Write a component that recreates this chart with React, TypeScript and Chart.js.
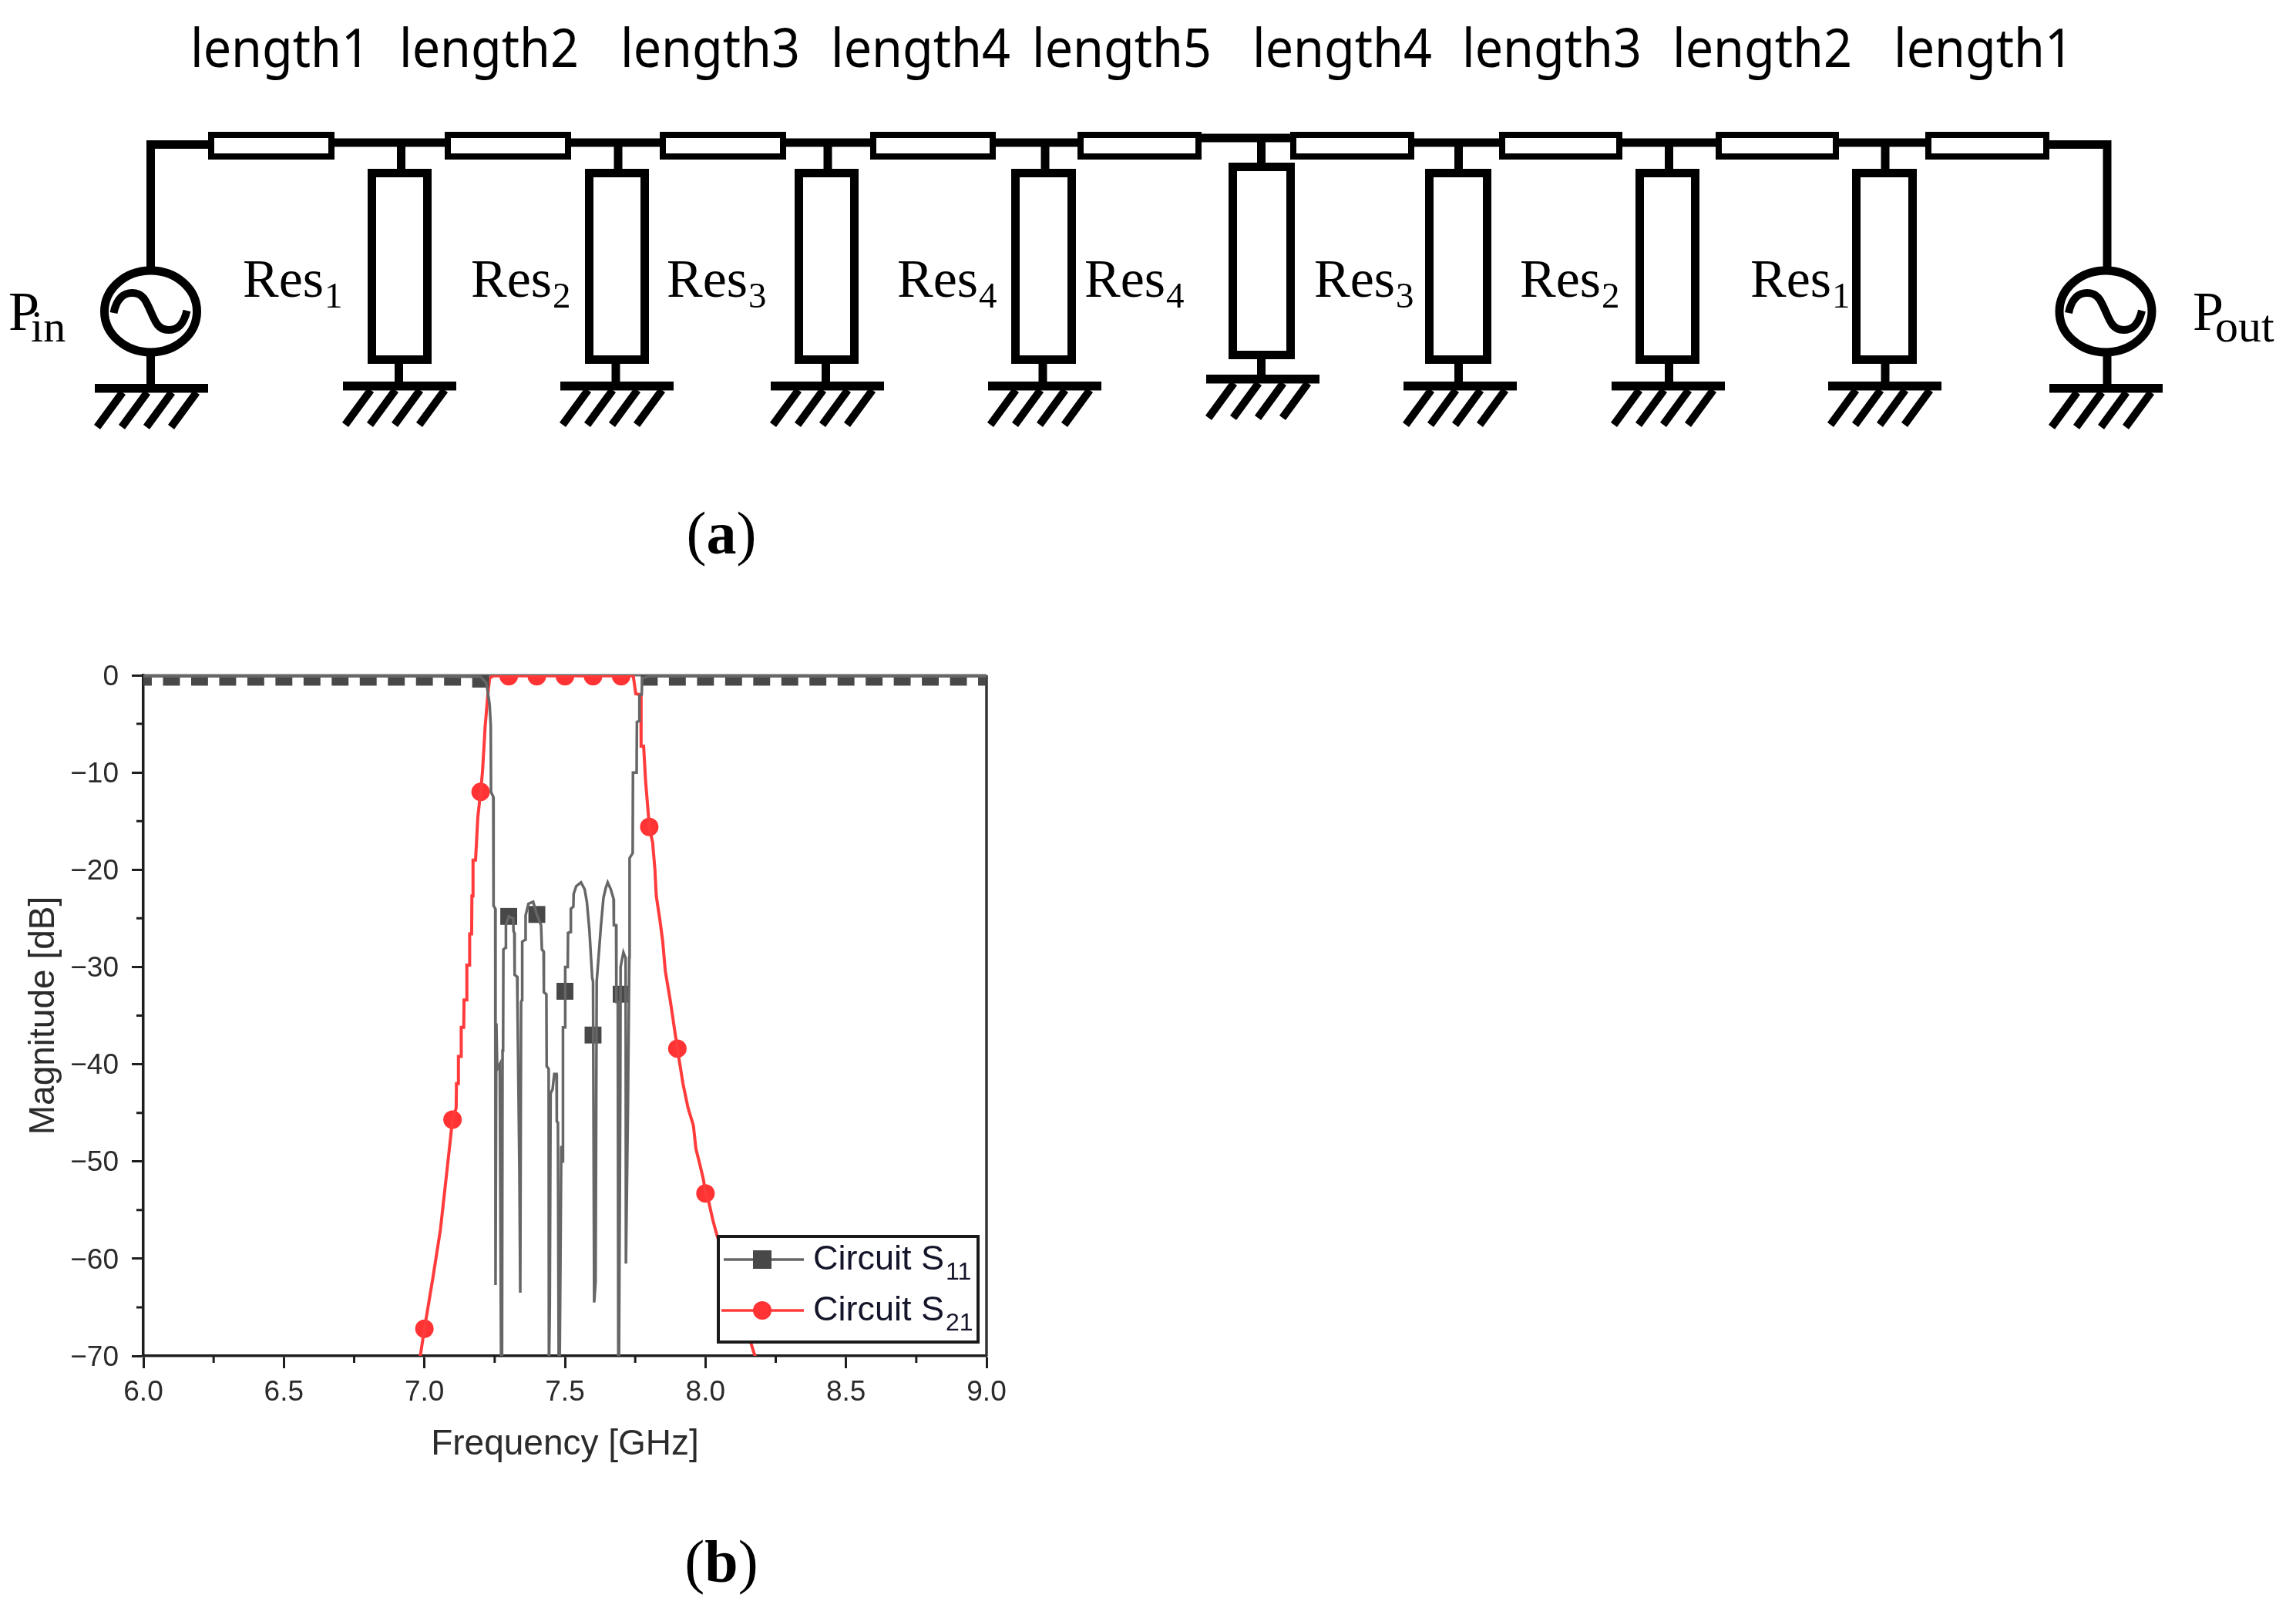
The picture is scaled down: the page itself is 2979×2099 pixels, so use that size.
import { useEffect, useRef } from 'react';
import { Chart, registerables } from 'chart.js';

Chart.register(...registerables);

// S11 trace, frequency in GHz / magnitude in dB
const s11Freq = [6.0, 6.5, 7.0, 7.2, 7.22, 7.225, 7.232, 7.236, 7.237, 7.245, 7.246, 7.252, 7.253, 7.256, 7.259, 7.268, 7.273, 7.276, 7.278, 7.28, 7.281, 7.289, 7.29, 7.3, 7.316, 7.317, 7.32, 7.321, 7.33, 7.331, 7.338, 7.341, 7.344, 7.347, 7.348, 7.359, 7.36, 7.37, 7.387, 7.4, 7.415, 7.418, 7.424, 7.425, 7.434, 7.435, 7.442, 7.443, 7.446, 7.449, 7.456, 7.462, 7.47, 7.471, 7.475, 7.478, 7.481, 7.487, 7.492, 7.493, 7.5, 7.501, 7.51, 7.511, 7.52, 7.521, 7.53, 7.531, 7.54, 7.557, 7.57, 7.578, 7.587, 7.597, 7.6, 7.604, 7.609, 7.613, 7.628, 7.637, 7.645, 7.652, 7.663, 7.673, 7.674, 7.682, 7.683, 7.688, 7.69, 7.692, 7.697, 7.698, 7.708, 7.716, 7.717, 7.724, 7.729, 7.73, 7.741, 7.742, 7.755, 7.756, 7.764, 7.765, 7.773, 7.775, 7.8, 8.5, 9.0];
const s11Mag = [-0.1, -0.1, -0.1, -0.15, -0.8, -1.6, -3, -5.2, -12, -12.5, -23.7, -24, -62.7, -35.8, -40.5, -40, -72, -72, -38.6, -38.4, -28.2, -28, -25.7, -24.8, -25, -26.3, -26.5, -30.8, -31, -33.6, -50.9, -63.5, -33.6, -33.4, -27.4, -27.2, -24.7, -23.5, -23.3, -24.6, -25.7, -28.2, -28.4, -32.6, -32.8, -40.2, -40.5, -72, -65, -43, -42.6, -41, -41, -45.9, -46, -72, -72, -48.4, -50, -36.2, -36.2, -30, -30, -26.5, -26.4, -24, -23.8, -22.5, -21.7, -21.3, -22, -23.3, -26.2, -31.1, -31.5, -64.5, -62.4, -31.5, -25.8, -22.9, -21.9, -21.3, -22, -23, -25.7, -25.7, -33.6, -33.6, -72, -72, -42, -30, -28.5, -29.1, -60.5, -44.6, -29, -18.8, -18.3, -10, -10, -4.8, -4.7, -2.1, -2, -0.3, -0.1, -0.1, -0.1];

// S21 trace
const s21Freq = [6.975, 7.0, 7.03, 7.057, 7.08, 7.1, 7.113, 7.114, 7.12, 7.121, 7.13, 7.131, 7.14, 7.141, 7.15, 7.151, 7.16, 7.161, 7.168, 7.169, 7.172, 7.173, 7.182, 7.19, 7.2, 7.207, 7.216, 7.226, 7.232, 7.245, 7.5, 7.743, 7.752, 7.77, 7.771, 7.78, 7.787, 7.797, 7.8, 7.812, 7.82, 7.825, 7.838, 7.848, 7.857, 7.875, 7.9, 7.92, 7.938, 7.957, 7.966, 7.98, 7.993, 8.0, 8.012, 8.026, 8.04, 8.1, 8.163, 8.175, 8.2];
const s21Mag = [-72, -67.2, -62, -57, -51, -45.7, -44.5, -42, -42, -39.2, -39.2, -36.2, -36.2, -33.4, -33.4, -29.8, -29.8, -26.6, -26.6, -22.7, -22.7, -19, -19, -14.6, -12, -9.8, -5.3, -1.9, -0.3, -0.05, -0.05, -0.05, -1.9, -2, -7.3, -7.3, -10.9, -14.4, -15.6, -17.2, -19.9, -22.7, -25.2, -27.4, -30.4, -33.5, -38.4, -42, -44.5, -46.3, -48.7, -50.3, -51.9, -53.3, -54.2, -56, -57.5, -63, -68.8, -69.9, -72];

// markers sit every 0.1 GHz on each trace
const s11MarkerFreq = [6.0, 6.1, 6.2, 6.3, 6.4, 6.5, 6.6, 6.7, 6.8, 6.9, 7.0, 7.1, 7.2, 7.3, 7.4, 7.5, 7.6, 7.7, 7.8, 7.9, 8.0, 8.1, 8.2, 8.3, 8.4, 8.5, 8.6, 8.7, 8.8, 8.9, 9.0];
const s11MarkerMag = [-0.2, -0.2, -0.2, -0.2, -0.2, -0.2, -0.2, -0.2, -0.2, -0.2, -0.2, -0.2, -0.4, -24.8, -24.6, -32.5, -37, -32.8, -0.2, -0.2, -0.2, -0.2, -0.2, -0.2, -0.2, -0.2, -0.2, -0.2, -0.2, -0.2, -0.2];
const s21MarkerFreq = [7.0, 7.1, 7.2, 7.3, 7.4, 7.5, 7.6, 7.7, 7.8, 7.9, 8.0];
const s21MarkerMag = [-67.2, -45.7, -12, -0.1, -0.1, -0.1, -0.1, -0.1, -15.6, -38.4, -53.3];

const minorFreq = [6.25, 6.75, 7.25, 7.75, 8.25, 8.75];
const minorMag = [-5, -15, -25, -35, -45, -55, -65];

const legendSubs = ['11', '21'];
const lengthLabels = ['length1', 'length2', 'length3', 'length4', 'length5', 'length4', 'length3', 'length2', 'length1'];
const resLabels = ['1', '2', '3', '4', '4', '3', '2', '1'];

// schematic layout, page pixels
const lengthX = [247, 518, 805, 1078, 1339, 1625, 1897, 2170, 2457];
const resX = [315, 611, 865, 1164, 1407, 1705, 1972, 2271];
const seriesBoxes = [[270, 434], [577, 741], [856, 1020], [1129, 1292], [1398, 1559], [1674, 1835], [1945, 2105], [2226, 2386], [2498, 2659]];
// left, right, top stem x, bottom stem x, ground bar left, vertical shift
const shunts = [
  [477, 560, 520.5, 517.5, 445, 0],
  [759, 842, 802, 799, 727, 0],
  [1031, 1114, 1074, 1071.5, 1000, 0],
  [1312, 1396, 1356, 1353, 1282, 0],
  [1594, 1680, 1636.5, 1636.5, 1565, -1],
  [1849, 1935, 1892.5, 1892.5, 1821, 0],
  [2122, 2205, 2165.5, 2165.5, 2091, 0],
  [2403, 2487, 2446, 2446, 2372, 0],
];

const SANS = '"Liberation Sans", Arial, sans-serif';
const SERIF = '"Liberation Serif", serif';

const toPoints = (xs: number[], ys: number[]) => xs.map((x, i) => ({ x, y: ys[i] }));

function drawGround(ctx: CanvasRenderingContext2D, left: number, top: number) {
  ctx.fillStyle = '#000';
  ctx.fillRect(left, top, 147, 11.5);
  ctx.lineWidth = 10;
  ctx.lineCap = 'butt';
  for (let k = 0; k < 4; k++) {
    ctx.beginPath();
    ctx.moveTo(left + 36 + 32 * k, top + 11);
    ctx.lineTo(left + 3 + 32 * k, top + 56);
    ctx.stroke();
  }
}

function drawSource(ctx: CanvasRenderingContext2D, cx: number) {
  ctx.lineWidth = 11;
  ctx.beginPath();
  ctx.ellipse(cx, 404, 60, 53, 0, 0, Math.PI * 2);
  ctx.stroke();
  ctx.lineWidth = 10;
  ctx.beginPath();
  ctx.moveTo(cx - 48, 406);
  ctx.bezierCurveTo(cx - 44, 386, cx - 34, 380, cx - 24, 380);
  ctx.bezierCurveTo(cx - 8, 380, cx - 5, 394, cx, 404);
  ctx.bezierCurveTo(cx + 6, 418, cx + 10, 428, cx + 23, 428);
  ctx.bezierCurveTo(cx + 36, 428, cx + 43, 420, cx + 47, 403);
  ctx.stroke();
}

function drawSubscripted(ctx: CanvasRenderingContext2D, main: string, sub: string, x: number, y: number, size: number, subSize: number, subDrop: number, subGap: number) {
  ctx.font = `${size}px ${SERIF}`;
  ctx.fillText(main, x, y);
  const w = ctx.measureText(main).width;
  ctx.font = `${subSize}px ${SERIF}`;
  ctx.fillText(sub, x + w + subGap, y + subDrop);
}

function drawCaption(ctx: CanvasRenderingContext2D, letter: string, cx: number, y: number) {
  ctx.textAlign = 'left';
  ctx.font = `78px ${SERIF}`;
  const open = ctx.measureText('(').width;
  ctx.font = `bold 78px ${SERIF}`;
  const mid = ctx.measureText(letter).width;
  const x = cx - (open * 2 + mid) / 2;
  ctx.font = `78px ${SERIF}`;
  ctx.fillText('(', x, y);
  ctx.fillText(')', x + open + mid, y);
  ctx.font = `bold 78px ${SERIF}`;
  ctx.fillText(letter, x + open, y);
}

// circuit (a), captions, and nothing that depends on the axes
const schematicPlugin = {
  id: 'schematic',
  afterDraw(chart: Chart) {
    const ctx = chart.ctx;
    ctx.save();
    ctx.strokeStyle = '#000';
    ctx.fillStyle = '#000';
    ctx.textBaseline = 'alphabetic';
    ctx.textAlign = 'left';

    ctx.font = '70px "Noto Sans", sans-serif';
    lengthLabels.forEach((label, i) => ctx.fillText(label, lengthX[i], 87, 233));

    // wires
    ctx.lineCap = 'butt';
    ctx.lineJoin = 'miter';
    ctx.lineWidth = 11;
    ctx.beginPath();
    ctx.moveTo(195.5, 350);
    ctx.lineTo(195.5, 187.5);
    ctx.lineTo(270, 187.5);
    ctx.moveTo(2659, 187.5);
    ctx.lineTo(2734, 187.5);
    ctx.lineTo(2734, 350);
    ctx.moveTo(434, 185);
    ctx.lineTo(1398, 185);
    ctx.moveTo(1559, 179);
    ctx.lineTo(1674, 179);
    ctx.moveTo(1835, 185);
    ctx.lineTo(2498, 185);
    ctx.moveTo(195.5, 455);
    ctx.lineTo(195.5, 500);
    ctx.moveTo(2734, 455);
    ctx.lineTo(2734, 500);
    ctx.stroke();

    // series boxes
    ctx.lineWidth = 8;
    seriesBoxes.forEach(([l, r]) => {
      ctx.fillStyle = '#fff';
      ctx.fillRect(l + 4, 175, r - l - 8, 28);
      ctx.strokeRect(l + 4, 175, r - l - 8, 28);
    });

    // shunt boxes with their grounds
    shunts.forEach(([l, r, topX, botX, barL, shift]) => {
      const top = shift ? 211 : 219;
      const bottom = shift ? 466 : 472;
      const barTop = shift ? 486 : 495;
      ctx.lineWidth = 11;
      ctx.beginPath();
      ctx.moveTo(topX, shift ? 179 : 185);
      ctx.lineTo(topX, top);
      ctx.moveTo(botX, bottom);
      ctx.lineTo(botX, barTop);
      ctx.stroke();
      ctx.fillStyle = '#fff';
      ctx.fillRect(l + 5.5, top + 5.5, r - l - 11, bottom - top - 11);
      ctx.strokeRect(l + 5.5, top + 5.5, r - l - 11, bottom - top - 11);
      drawGround(ctx, barL, barTop);
    });

    drawSource(ctx, 195.5);
    drawSource(ctx, 2732);
    drawGround(ctx, 123, 498);
    drawGround(ctx, 2659, 498);

    ctx.fillStyle = '#000';
    resLabels.forEach((sub, i) => drawSubscripted(ctx, 'Res', sub, resX[i], 385, 70, 47, 14, 1));
    drawSubscripted(ctx, 'P', 'in', 11, 428, 72, 58, 15, -11);
    drawSubscripted(ctx, 'P', 'out', 2845, 428, 72, 60, 15, -11);

    drawCaption(ctx, 'a', 936, 718);
    drawCaption(ctx, 'b', 936, 2052);
    ctx.restore();
  },
};

const axesExtrasPlugin = {
  id: 'axesExtras',
  beforeDatasetsDraw(chart: Chart) {
    const { ctx, chartArea, scales } = chart;
    ctx.save();
    ctx.lineCap = 'butt';
    ctx.strokeStyle = '#6a6a6a';
    ctx.lineWidth = 3;
    ctx.beginPath();
    ctx.moveTo(chartArea.left, chartArea.top);
    ctx.lineTo(chartArea.right, chartArea.top);
    ctx.stroke();
    ctx.strokeStyle = '#333';
    ctx.lineWidth = 3.5;
    ctx.beginPath();
    ctx.moveTo(chartArea.right, chartArea.top);
    ctx.lineTo(chartArea.right, chartArea.bottom);
    ctx.stroke();
    ctx.strokeStyle = '#1e1e1e';
    ctx.lineWidth = 3;
    ctx.beginPath();
    minorFreq.forEach((f) => {
      const x = scales.x.getPixelForValue(f);
      ctx.moveTo(x, chartArea.bottom);
      ctx.lineTo(x, chartArea.bottom + 9);
    });
    minorMag.forEach((m) => {
      const y = scales.y.getPixelForValue(m);
      ctx.moveTo(chartArea.left, y);
      ctx.lineTo(chartArea.left - 9, y);
    });
    ctx.stroke();
    ctx.restore();
  },
};

// Chart.js legend has no subscripts, so the boxed legend is drawn here
const boxedLegendPlugin = {
  id: 'boxedLegend',
  afterDatasetsDraw(chart: Chart) {
    const ctx = chart.ctx;
    ctx.save();
    ctx.fillStyle = '#fff';
    ctx.strokeStyle = '#1a1a1a';
    ctx.lineWidth = 4;
    ctx.fillRect(932, 1604, 337, 137);
    ctx.strokeRect(932, 1604, 337, 137);

    ctx.lineWidth = 3.5;
    ctx.strokeStyle = '#666';
    ctx.beginPath();
    ctx.moveTo(939, 1634);
    ctx.lineTo(1043, 1634);
    ctx.stroke();
    ctx.fillStyle = '#484848';
    ctx.fillRect(977, 1622, 24, 24);

    ctx.strokeStyle = '#ff3b3b';
    ctx.beginPath();
    ctx.moveTo(936, 1700);
    ctx.lineTo(1043, 1700);
    ctx.stroke();
    ctx.fillStyle = '#ff3333';
    ctx.beginPath();
    ctx.arc(989, 1700, 12, 0, Math.PI * 2);
    ctx.fill();

    ctx.fillStyle = '#14142a';
    ctx.textAlign = 'left';
    ctx.textBaseline = 'alphabetic';
    legendSubs.forEach((sub, i) => {
      const y = 1647 + i * 66;
      ctx.font = `45px ${SANS}`;
      ctx.fillText('Circuit S', 1055, y);
      ctx.font = `32px ${SANS}`;
      ctx.fillText(sub, 1227, y + 13);
    });
    ctx.restore();
  },
};

export default function App() {
  const chartRef = useRef<HTMLCanvasElement>(null);

  useEffect(() => {
    if (!chartRef.current) return;

    const chart = new Chart(chartRef.current, {
      type: 'scatter',
      data: {
        datasets: [
          {
            label: 'Circuit S11',
            data: toPoints(s11Freq, s11Mag),
            showLine: true,
            borderColor: '#666',
            borderWidth: 3.5,
            pointRadius: 0,
          },
          {
            label: 'Circuit S11 markers',
            data: toPoints(s11MarkerFreq, s11MarkerMag),
            showLine: false,
            pointStyle: 'rect',
            pointRadius: 15.5,
            pointBorderWidth: 0,
            backgroundColor: '#484848',
          },
          {
            label: 'Circuit S21',
            data: toPoints(s21Freq, s21Mag),
            showLine: true,
            borderColor: '#ff3b3b',
            borderWidth: 4,
            pointRadius: 0,
          },
          {
            label: 'Circuit S21 markers',
            data: toPoints(s21MarkerFreq, s21MarkerMag),
            showLine: false,
            pointStyle: 'circle',
            pointRadius: 12,
            pointBorderWidth: 0,
            backgroundColor: '#ff3333',
          },
        ],
      },
      options: {
        animation: false,
        responsive: false,
        devicePixelRatio: 1,
        events: [],
        layout: { padding: { left: 0, right: 1699, top: 876, bottom: 197 } },
        plugins: { legend: { display: false }, tooltip: { enabled: false } },
        scales: {
          x: {
            type: 'linear',
            min: 6,
            max: 9,
            afterFit: (s: any) => { s.height = 143; },
            border: { display: true, width: 3.5, color: '#1e1e1e' },
            grid: { drawOnChartArea: false, drawTicks: true, tickLength: 16, tickWidth: 3, tickColor: '#1e1e1e' },
            ticks: {
              stepSize: 0.5,
              autoSkip: false,
              minRotation: 0,
              maxRotation: 0,
              padding: 10,
              color: '#2b2b2b',
              font: { family: SANS, size: 37 },
              callback: (v: any) => Number(v).toFixed(1),
            },
            title: {
              display: true,
              text: 'Frequency [GHz]',
              color: '#2b2b2b',
              font: { family: SANS, size: 46 },
              padding: 0,
            },
          },
          y: {
            type: 'linear',
            min: -70,
            max: 0,
            afterFit: (s: any) => { s.width = 186; },
            border: { display: true, width: 3.5, color: '#1e1e1e' },
            grid: { drawOnChartArea: false, drawTicks: true, tickLength: 15, tickWidth: 3, tickColor: '#1e1e1e' },
            ticks: {
              stepSize: 10,
              padding: 17,
              labelOffset: 2.5,
              color: '#2b2b2b',
              font: { family: SANS, size: 37 },
              callback: (v: any) => (Number(v) < 0 ? `\u2212${Math.abs(Number(v))}` : `${v}`),
            },
            title: {
              display: true,
              text: 'Magnitude [dB]',
              color: '#2b2b2b',
              font: { family: SANS, size: 46 },
              padding: { top: 30, bottom: 0 },
            },
          },
        },
      },
      plugins: [axesExtrasPlugin, boxedLegendPlugin, schematicPlugin],
    });

    return () => {
      chart.destroy();
    };
  }, []);

  return (
    <div style={{ position: 'absolute', left: 0, top: 0, width: 2979, height: 2099, background: '#fff' }}>
      <canvas ref={chartRef} width={2979} height={2099} style={{ display: 'block' }} />
    </div>
  );
}
